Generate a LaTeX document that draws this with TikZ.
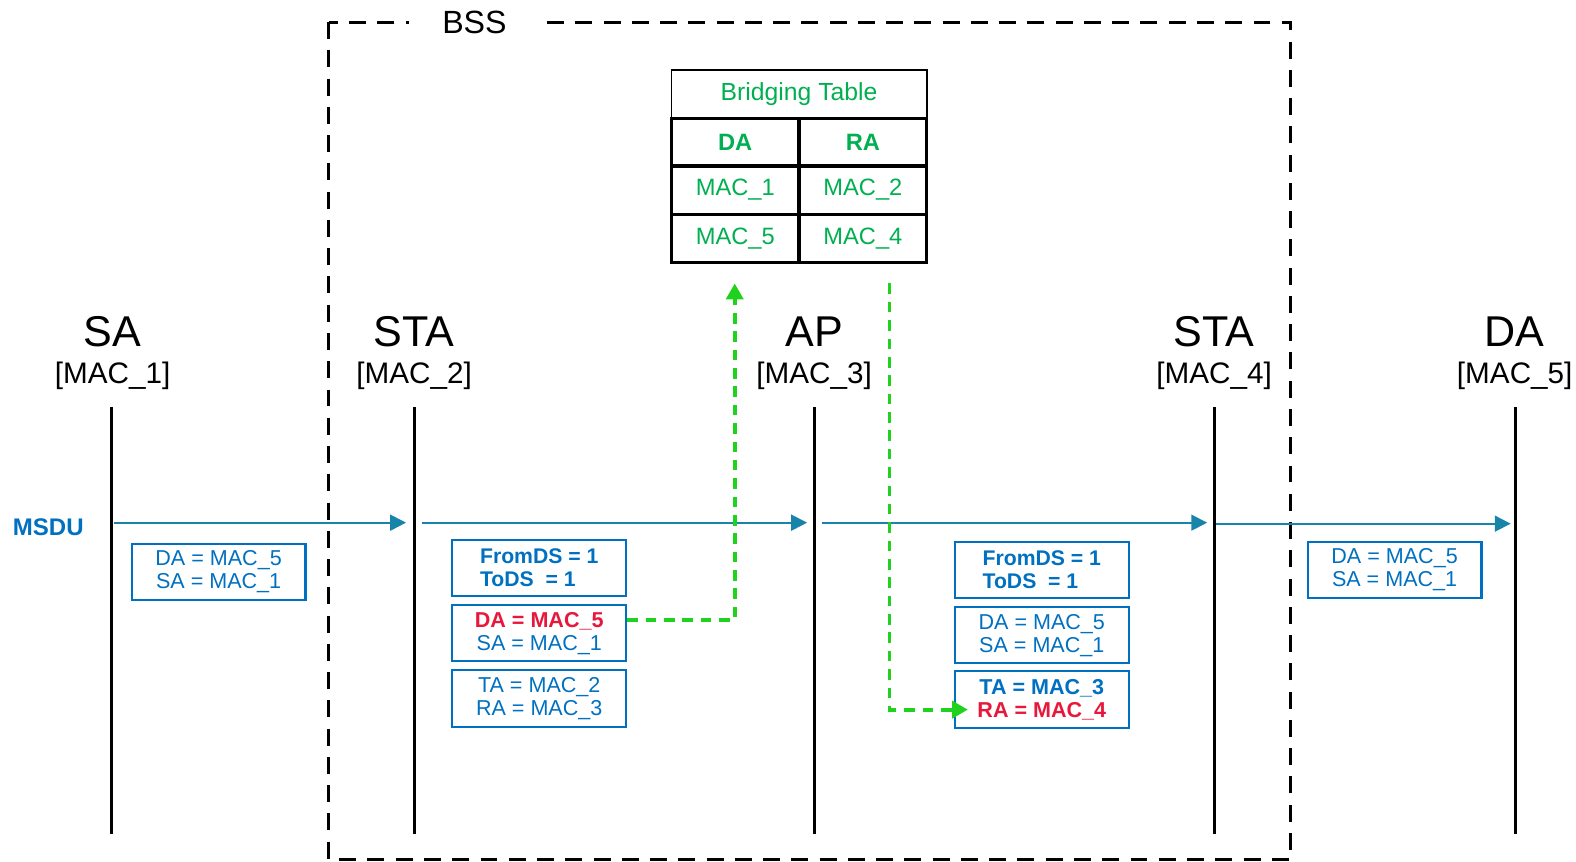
\documentclass[tikz,border=0pt]{standalone}
\usepackage{fontspec}
\setmainfont{Liberation Sans}
\usetikzlibrary{arrows.meta}
\definecolor{msdublue}{RGB}{0,112,192}
\definecolor{flowblue}{RGB}{24,132,170}
\definecolor{tabgreen}{RGB}{0,176,80}
\definecolor{hopgreen}{RGB}{30,210,30}
\definecolor{hotred}{RGB}{232,23,60}
\tikzset{
  bssline/.style={line width=0.85pt, dash pattern=on 4.8pt off 3.2pt},
  lifeline/.style={line width=0.85pt},
  flow/.style={draw=flowblue, line width=0.55pt, -{Triangle[length=4.5pt,width=4.5pt]}},
  hop/.style={draw=hopgreen, line width=1.1pt, dash pattern=on 3pt off 2.2pt, -{Triangle[length=4.5pt,width=4.8pt]}},
  hdrbox/.style={draw=msdublue, line width=0.6pt, minimum width=1.73cm, minimum height=0.56cm,
    inner sep=0pt, align=center, text=msdublue, font=\fontsize{6.1}{6.5}\selectfont},
  cellbox/.style={draw, line width=0.9pt, minimum width=1.27cm, minimum height=0.48cm,
    inner sep=0pt, text=tabgreen, font=\fontsize{6.7}{7}\selectfont},
  staname/.style={font=\fontsize{12.2}{13}\selectfont},
  stamac/.style={font=\fontsize{8.4}{9}\selectfont}
}
\begin{document}
\begin{tikzpicture}
   \useasboundingbox (0,0) rectangle (15.68,-8.57);
   % BSS frame
   \draw [bssline] (3.27,-0.22) rectangle (12.84,-8.55);
   \node (bss) [fill=white, inner xsep=0.33cm, font=\fontsize{9.1}{10}\selectfont] at (4.72,-0.22) {BSS};
   % stations
   \node (sa) [staname] at (1.12,-3.30) {SA};
   \node (samac) [stamac] at (1.12,-3.74) {[MAC\_1]};
   \node (sta2) [staname] at (4.12,-3.30) {STA};
   \node (sta2mac) [stamac] at (4.12,-3.74) {[MAC\_2]};
   \node (ap) [staname] at (8.10,-3.30) {AP};
   \node (apmac) [stamac] at (8.10,-3.74) {[MAC\_3]};
   \node (sta4) [staname] at (12.08,-3.30) {STA};
   \node (sta4mac) [stamac] at (12.08,-3.74) {[MAC\_4]};
   \node (da) [staname] at (15.07,-3.30) {DA};
   \node (damac) [stamac] at (15.07,-3.74) {[MAC\_5]};
   \draw [lifeline] (1.11,-4.05) -- (1.11,-8.30);
   \draw [lifeline] (4.12,-4.05) -- (4.12,-8.30);
   \draw [lifeline] (8.10,-4.05) -- (8.10,-8.30);
   \draw [lifeline] (12.08,-4.05) -- (12.08,-8.30);
   \draw [lifeline] (15.08,-4.05) -- (15.08,-8.30);
   % frames in flight
   \node (msdu) [text=msdublue, font=\bfseries\fontsize{6.8}{7}\selectfont] at (0.48,-5.25) {MSDU};
   \coordinate (f1s) at (1.13,-5.20);  \coordinate (f1e) at (4.04,-5.20);
   \coordinate (f2s) at (4.20,-5.20);  \coordinate (f2e) at (8.03,-5.20);
   \coordinate (f3s) at (8.18,-5.20);  \coordinate (f3e) at (12.01,-5.20);
   \coordinate (f4s) at (12.10,-5.21); \coordinate (f4e) at (15.03,-5.21);
   \draw [flow] (f1s) -- (f1e);
   \draw [flow] (f2s) -- (f2e);
   \draw [flow] (f3s) -- (f3e);
   \draw [flow] (f4s) -- (f4e);
   \node (saaddr) [hdrbox] at (2.175,-5.69) {DA = MAC\_5\\SA = MAC\_1};
   \node (ds2) [hdrbox, align=left, font=\bfseries\fontsize{6}{6.5}\selectfont] at (5.365,-5.65) {FromDS = 1\\ToDS\ \ = 1};
   \node (addr2) [hdrbox] at (5.365,-6.30) {\textcolor{hotred}{\bfseries DA = MAC\_5}\\SA = MAC\_1};
   \node (link2) [hdrbox] at (5.365,-6.95) {TA = MAC\_2\\RA = MAC\_3};
   \node (ds4) [hdrbox, align=left, font=\bfseries\fontsize{6}{6.5}\selectfont] at (10.365,-5.67) {FromDS = 1\\ToDS\ \ = 1};
   \node (addr4) [hdrbox] at (10.365,-6.32) {DA = MAC\_5\\SA = MAC\_1};
   \node (link4) [hdrbox] at (10.365,-6.96) {\bfseries TA = MAC\_3\\\textcolor{hotred}{\bfseries RA = MAC\_4}};
   \node (daaddr) [hdrbox] at (13.875,-5.67) {DA = MAC\_5\\SA = MAC\_1};
   % bridging table
   \node (btitle) [cellbox, line width=0.5pt, minimum width=2.54cm, font=\fontsize{7}{8}\selectfont] at (7.95,-0.94) {Bridging Table};
   \node (hda) [cellbox, font=\bfseries\fontsize{6.7}{7}\selectfont] at (7.315,-1.415) {DA};
   \node (hra) [cellbox, font=\bfseries\fontsize{6.7}{7}\selectfont] at (8.585,-1.415) {RA};
   \node (c11) [cellbox] at (7.315,-1.89) {MAC\_1};
   \node (c12) [cellbox] at (8.585,-1.89) {MAC\_2};
   \node (c51) [cellbox] at (7.315,-2.37) {MAC\_5};
   \node (c54) [cellbox] at (8.585,-2.37) {MAC\_4};
   % lookups
   \coordinate (qtip) at (7.31,-2.82);
   \coordinate (rfrom) at (8.85,-2.82);
   \draw [hop] ([yshift=0.13cm]addr2.east) -- (7.31,-6.17) -- (qtip);
   \draw [hop] (rfrom) -- (8.85,-7.06) -- (9.63,-7.06);
\end{tikzpicture}
\end{document}
